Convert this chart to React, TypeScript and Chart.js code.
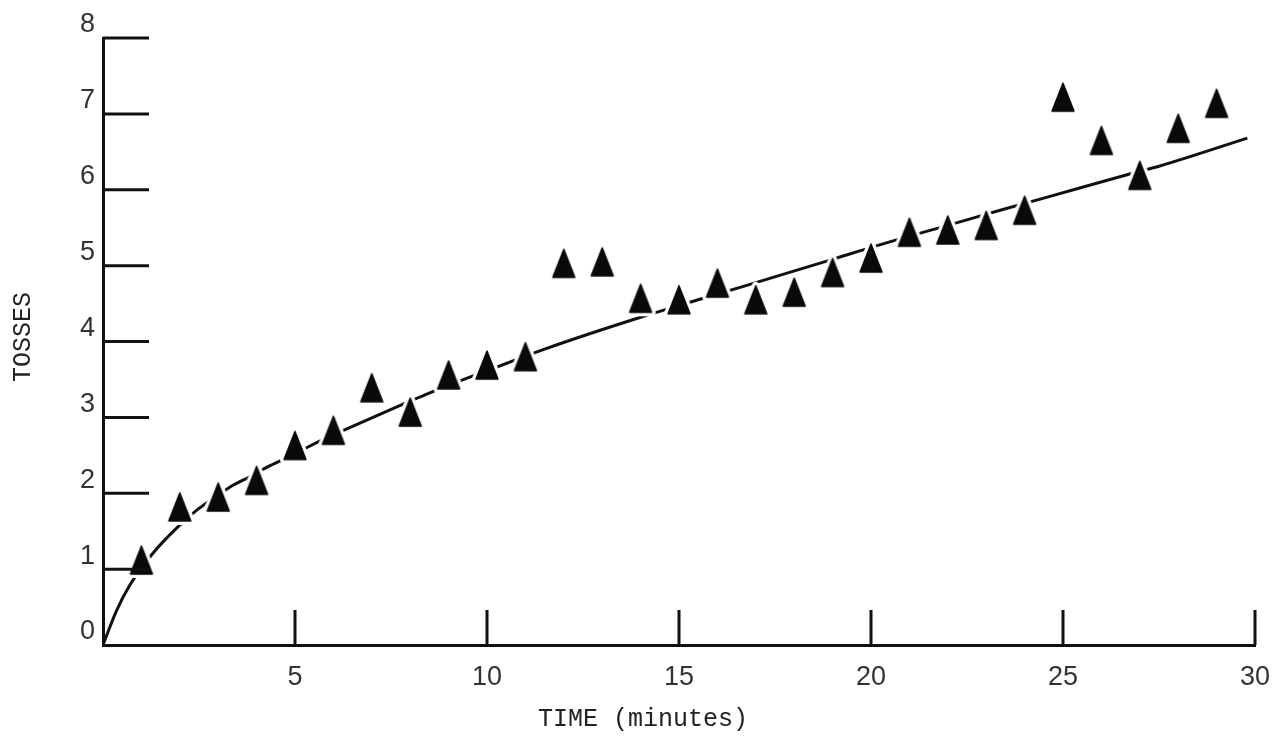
import React, { useEffect, useRef } from "react";
import { Chart, registerables } from "chart.js";

Chart.register(...registerables);

// ---- data ----
const timeMinutes = [1, 2, 3, 4, 5, 6, 7, 8, 9, 10, 11, 12, 13, 14, 15, 16, 17, 18, 19, 20, 21, 22, 23, 24, 25, 26, 27, 28, 29];
const tosses = [1.12, 1.82, 1.95, 2.17, 2.63, 2.83, 3.39, 3.07, 3.56, 3.69, 3.8, 5.03, 5.05, 4.57, 4.55, 4.77, 4.55, 4.65, 4.91, 5.1, 5.44, 5.47, 5.53, 5.73, 7.22, 6.65, 6.19, 6.81, 7.14];

const fitTime = [0, 0.35, 0.7, 1.3, 2.0, 2.45, 3.3, 3.83, 4.3, 4.8, 5.3, 5.78, 6.35, 7.8, 8.4, 9.5, 10.5, 11.5, 14, 15.5, 16.7, 18.85, 20.4, 22, 23.5, 24.5, 26.9, 27.5, 29.8];
const fitTosses = [0, 0.45, 0.79, 1.21, 1.58, 1.78, 2.08, 2.22, 2.35, 2.47, 2.6, 2.72, 2.85, 3.17, 3.3, 3.52, 3.71, 3.9, 4.32, 4.55, 4.73, 5.06, 5.3, 5.53, 5.75, 5.89, 6.23, 6.31, 6.68];

const xTickValues = [0, 5, 10, 15, 20, 25, 30];
const yTickValues = [0, 1, 2, 3, 4, 5, 6, 7, 8];

const xTitle = "TIME (minutes)";
const yTitle = "TOSSES";

function makeTriangle(): HTMLCanvasElement {
  const c = document.createElement("canvas");
  c.width = 32;
  c.height = 40;
  const g = c.getContext("2d")!;
  g.beginPath();
  g.moveTo(16, 6);
  g.lineTo(27, 34);
  g.lineTo(5, 34);
  g.closePath();
  g.lineJoin = "round";
  g.strokeStyle = "#ffffff";
  g.lineWidth = 8;
  g.stroke();
  g.fillStyle = "#0a0a0a";
  g.strokeStyle = "#0a0a0a";
  g.lineWidth = 1.5;
  g.fill();
  g.stroke();
  return c;
}

const inwardTicks = {
  id: "inwardTicks",
  afterDraw(chart: any) {
    const { ctx, chartArea, scales } = chart;
    const x = scales.x;
    const y = scales.y;
    ctx.save();
    ctx.strokeStyle = "#111";
    ctx.lineWidth = 3;
    yTickValues.filter((v) => v > 0).forEach((v) => {
      const py = y.getPixelForValue(v);
      ctx.beginPath();
      ctx.moveTo(chartArea.left, py);
      ctx.lineTo(chartArea.left + 46, py);
      ctx.stroke();
    });
    xTickValues.filter((v) => v > 0).forEach((v) => {
      const px = x.getPixelForValue(v);
      ctx.beginPath();
      ctx.moveTo(px, chartArea.bottom);
      ctx.lineTo(px, chartArea.bottom - 35);
      ctx.stroke();
    });
    ctx.fillStyle = "#222";
    ctx.font = '25px "Liberation Mono"';
    ctx.textAlign = "center";
    ctx.textBaseline = "middle";
    ctx.fillText(xTitle, chartArea.left + 540, chartArea.bottom + 74);
    ctx.translate(23, chartArea.top + 299);
    ctx.rotate(-Math.PI / 2);
    ctx.fillText(yTitle, 0, 0);
    ctx.restore();
  },
};

export default function App() {
  const ref = useRef<HTMLCanvasElement>(null);
  useEffect(() => {
    document.body.style.margin = "0";
    const tri = makeTriangle();
    const chart = new Chart(ref.current!, {
      type: "scatter",
      data: {
        datasets: [
          {
            label: "observed",
            data: timeMinutes.map((t, i) => ({ x: t, y: tosses[i] })),
            pointStyle: tri as any,
            pointRadius: 12,
            order: 0,
          },
          {
            label: "fit",
            type: "line",
            data: fitTime.map((t, i) => ({ x: t, y: fitTosses[i] })),
            borderColor: "#111",
            borderWidth: 3,
            pointRadius: 0,
            cubicInterpolationMode: "monotone",
            order: 1,
          } as any,
        ],
      },
      options: {
        animation: false,
        responsive: false,
        layout: { padding: { top: 38, right: 24, left: 0, bottom: 0 } },
        plugins: { legend: { display: false }, tooltip: { enabled: false } },
        scales: {
          x: {
            type: "linear",
            min: 0,
            max: 30,
            afterFit: (s: any) => {
              s.height = 99;
            },
            afterBuildTicks: (s: any) => {
              s.ticks = xTickValues.map((v) => ({ value: v }));
            },
            grid: { display: false },
            border: { display: true, color: "#111", width: 3 },
            ticks: {
              padding: 8,
              color: "#333",
              font: { family: '"Liberation Sans"', size: 27 },
              callback: (v: any) => (v === 0 ? "" : String(v)),
            },
          },
          y: {
            type: "linear",
            min: 0,
            max: 8,
            afterFit: (s: any) => {
              s.width = 103;
            },
            afterBuildTicks: (s: any) => {
              s.ticks = yTickValues.map((v) => ({ value: v }));
            },
            grid: { display: false, drawTicks: false },
            border: { display: true, color: "#111", width: 3 },
            ticks: {
              padding: 8,
              labelOffset: -13,
              color: "#333",
              font: { family: '"Liberation Sans"', size: 27 },
              callback: (v: any) => String(v),
            },
          },
        },
      },
      plugins: [inwardTicks],
    });
    return () => chart.destroy();
  }, []);
  return (
    <div style={{ width: 1279, height: 744, background: "#fff" }}>
      <canvas ref={ref} width={1279} height={744} style={{ display: "block" }} />
    </div>
  );
}
